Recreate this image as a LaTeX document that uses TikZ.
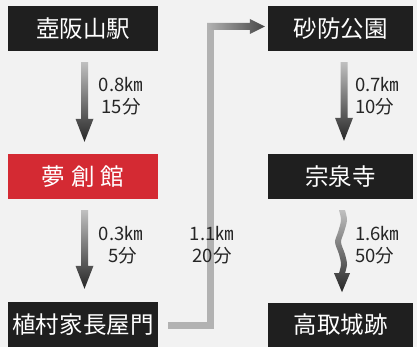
\documentclass[tikz,border=0pt]{standalone}
\usepackage{fontspec}
\newfontfamily\jp{Noto Sans CJK JP}
\usetikzlibrary{calc,arrows.meta}
\definecolor{bg}{HTML}{F2F2F2}
\definecolor{boxdark}{HTML}{1F1F1F}
\definecolor{boxred}{HTML}{D42A33}
\definecolor{lgray}{HTML}{B2B2B2}
\tikzset{
  stopbox/.style={fill=boxdark, text=white, minimum height=45pt, inner sep=0pt,
    font=\jp\fontsize{23.5}{25}\selectfont},
  redbox/.style={stopbox, fill=boxred},
  dist/.style={font=\jp\fontsize{18.5}{21.5}\selectfont, text=black!85, inner sep=0pt},
  shadedarrow/.style={top color=black!25, bottom color=black!85},
}
\newcommand\gradarrow[2]{%
  \shade[shadedarrow] let \p1=(#1), \p2=(#2) in
    (\x1-3.5pt,\y1) -- (\x1+3.5pt,\y1) -- (\x1+3.5pt,\y2+23pt) -- (\x1+9pt,\y2+23pt)
    -- (\x1,\y2) -- (\x1-9pt,\y2+23pt) -- (\x1-3.5pt,\y2+23pt) -- cycle;}
\begin{document}
\begin{tikzpicture}[x=1pt,y=-1pt]
\fill[bg] (0,0) rectangle (417,347);
\useasboundingbox (0,0) rectangle (417,347);
% stations
\node[stopbox, minimum width=150pt] (b1) at (83,28.5) {壺阪山駅};
\node[redbox, minimum width=150pt] (b2) at (83,176.5) {夢\hspace{6pt}創\hspace{6pt}館};
\node[stopbox, minimum width=150pt] (b3) at (83,324.5) {植村家長屋門};
\node[stopbox, minimum width=145pt] (b4) at (340.5,28.5) {砂防公園};
\node[stopbox, minimum width=145pt] (b5) at (340.5,176.5) {宗泉寺};
\node[stopbox, minimum width=145pt] (b6) at (340.5,325) {高取城跡};
% straight arrows
\coordinate (a1s) at ($(b1.south)+(1.5,11)$);
\coordinate (a1e) at ($(b2.north)+(1.5,-12)$);
\gradarrow{a1s}{a1e}
\coordinate (a2s) at ($(b2.south)+(1.5,11)$);
\coordinate (a2e) at ($(b3.north)+(1.5,-13)$);
\gradarrow{a2s}{a2e}
\coordinate (a3s) at ($(b4.south)+(3.5,11)$);
\coordinate (a3e) at ($(b5.north)+(3.5,-13)$);
\gradarrow{a3s}{a3e}
% wavy arrow
\coordinate (w0) at ($(b5.south)+(1.5,11)$);
\begin{scope}[shift={(w0)}]
\shade[shadedarrow] plot[smooth] coordinates {(-3,0) (-1,10) (-4,22) (-7,32) (-3,44) (-1,54) (-3,63)}
  -- (-8,63) -- (0,82) -- (8,63) --
  plot[smooth] coordinates {(3,63) (5,54) (3,44) (-1,32) (2,22) (5,10) (3,0)} -- cycle;
\end{scope}
% grey L connector
\coordinate (g0) at ($(b3.east)+(10,0.5)$);
\coordinate (gc) at (210.5,23);
\coordinate (gt) at ($(b4.west)+(-3,-2)$);
\draw[lgray, line width=7pt] (g0) -| (gc);
\shade[left color=black!30, right color=black!72] let \p1=(gc), \p2=(gt) in
  (\x1-3.5pt,\y2+3.5pt) -- (\x2-15pt,\y2+3.5pt) -- (\x2-15pt,\y2+7.5pt) -- (\x2,\y2)
  -- (\x2-15pt,\y2-7.5pt) -- (\x2-15pt,\y2-3.5pt) -- (\x1-3.5pt,\y2-3.5pt) -- cycle;
% labels
\node[dist, align=center] (l1) at (121,96) {0.8㎞\\15分};
\node[dist, align=center] (l2) at (121,245) {0.3㎞\\\,5分};
\node[dist, align=left, anchor=west] (l3) at (355,96) {0.7㎞\\10分};
\node[dist, align=left, anchor=west] (l4) at (355,245) {1.6㎞\\50分};
\node[dist, align=center] (l5) at (212,245) {1.1㎞\\20分};
\end{tikzpicture}
\end{document}
